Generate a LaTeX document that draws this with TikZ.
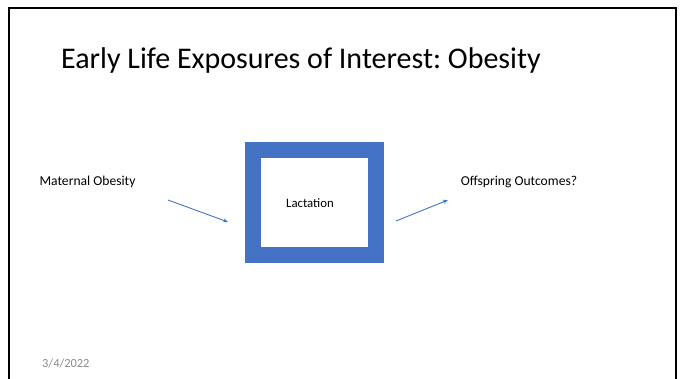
\documentclass[tikz,border=0pt]{standalone}
\usepackage{fontspec}
\setmainfont{Carlito}
\usetikzlibrary{arrows.meta, positioning}
\definecolor{officeblue}{HTML}{4472C4}
\definecolor{dategray}{HTML}{8A8A8A}
\tikzset{
	frameline/.style={line width=2.5pt, black},
	labeltext/.style={font=\fontsize{13.6}{16}\selectfont, inner sep=0pt},
	link/.style={draw=officeblue, line width=0.9pt, -{Stealth[length=5pt, width=4pt]}}
}
\frenchspacing

\begin{document}
\begin{tikzpicture}[
	x=1pt, y=-1pt,
	% --- Style Definitions ---
	thickbox/.style={draw=officeblue, line width=16pt, fill=white, minimum width=123.5pt, minimum height=105pt, inner sep=0pt},
	]
	
	% --- Page & Slide Frame ---
	\useasboundingbox (0,0) rectangle (683,379);
	\draw[frameline] (9,385) -- (9,8) -- (676,8) -- (676,385);
	
	% --- Title ---
	\node[anchor=base west, inner sep=0pt, font=\fontsize{30}{34}\selectfont] (title) at (61,69) {Early Life Exposures of Interest: Obesity};
	
	% --- Diagram ---
	\node[thickbox] (lac) at (314.5,202.5) {};
	\node[labeltext, font=\fontsize{12.8}{15}\selectfont] (lacText) at (310,203) {Lactation};
	\node[labeltext] (mother) at (87.5,182) {Maternal Obesity};
	\node[labeltext] (child) at (519,182) {Offspring Outcomes?};
	
	% arrow ends sit off the box
	\coordinate (inStart) at (168,200);
	\coordinate (inEnd) at (228,222);
	\coordinate (outStart) at (396,221);
	\coordinate (outEnd) at (448,200);
	\draw[link] (inStart) -- (inEnd);
	\draw[link] (outStart) -- (outEnd);
	
	% --- Footer ---
	\node[anchor=base west, inner sep=0pt, font=\fontsize{12.4}{14}\selectfont, text=dategray] (date) at (42,368) {3/4/2022};
	
\end{tikzpicture}
\end{document}
